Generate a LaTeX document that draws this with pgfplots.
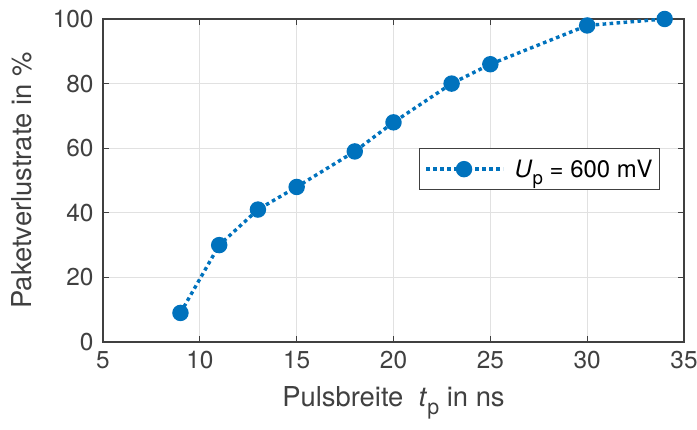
\documentclass[border=0pt]{standalone}
\usepackage{fontspec}
\setmainfont{TeX Gyre Heros}
\usepackage{pgfplots}
\pgfplotsset{compat=1.18}
\definecolor{mblue}{RGB}{0,114,189}
\definecolor{axgray}{RGB}{64,64,64}
\definecolor{gridgray}{RGB}{225,225,225}
\newcommand\lowsub[1]{\raisebox{-0.32em}{\scalebox{0.78}{#1}}}
\begin{document}
\begin{tikzpicture}
\begin{axis}[
  scale only axis,
  width=581bp, height=323bp,
  xmin=5, xmax=35, ymin=0, ymax=100,
  xtick={5,10,...,35}, ytick={0,20,...,100},
  tick align=inside,
  major tick length=6bp,
  axis line style={axgray, line width=1.2bp},
  tick style={axgray, line width=1.2bp},
  grid=major,
  grid style={gridgray, line width=0.8bp},
  ticklabel style={font=\fontsize{24.5}{28}\selectfont, text=axgray},
  xticklabel style={yshift=-6bp},
  yticklabel style={xshift=-6bp},
  /pgf/number format/assume math mode=true,
  xlabel={Pulsbreite \ \textit{t}\lowsub{p} in ns},
  ylabel={Paketverlustrate in \%},
  label style={font=\fontsize{27.5}{31}\selectfont, text=axgray},
  xlabel style={yshift=-10bp},
  ylabel style={yshift=14bp},
  legend style={at={(0.959,0.60)}, anchor=north east,
    draw=axgray, line width=1bp, font=\fontsize{24}{27}\selectfont,
    inner xsep=5bp, inner ysep=9bp},
  legend cell align=left,
  legend image code/.code={
    \draw[mark repeat=2, mark phase=2] plot coordinates {(0bp,0bp) (38bp,0bp) (77bp,0bp)};
  },
  clip=false,
]
\addplot[mblue, line width=3.4bp, dash pattern=on 3.6bp off 3.4bp, mark=*, mark size=6.5bp,
  mark options={solid, fill=mblue}] coordinates {
  (9,9) (11,30) (13,41) (15,48) (18,59) (20,68) (23,80) (25,86) (30,98) (34,100)
};
\addlegendentry{\hspace{8bp}\textit{U}\lowsub{p} = 600 mV}
\coordinate (sw) at (rel axis cs:0,0);
\coordinate (ne) at (rel axis cs:1,1);
\end{axis}
\pgfresetboundingbox
\path ([xshift=-103bp, yshift=-88bp]sw) rectangle ([xshift=13bp, yshift=19bp]ne);
\end{tikzpicture}
\end{document}
